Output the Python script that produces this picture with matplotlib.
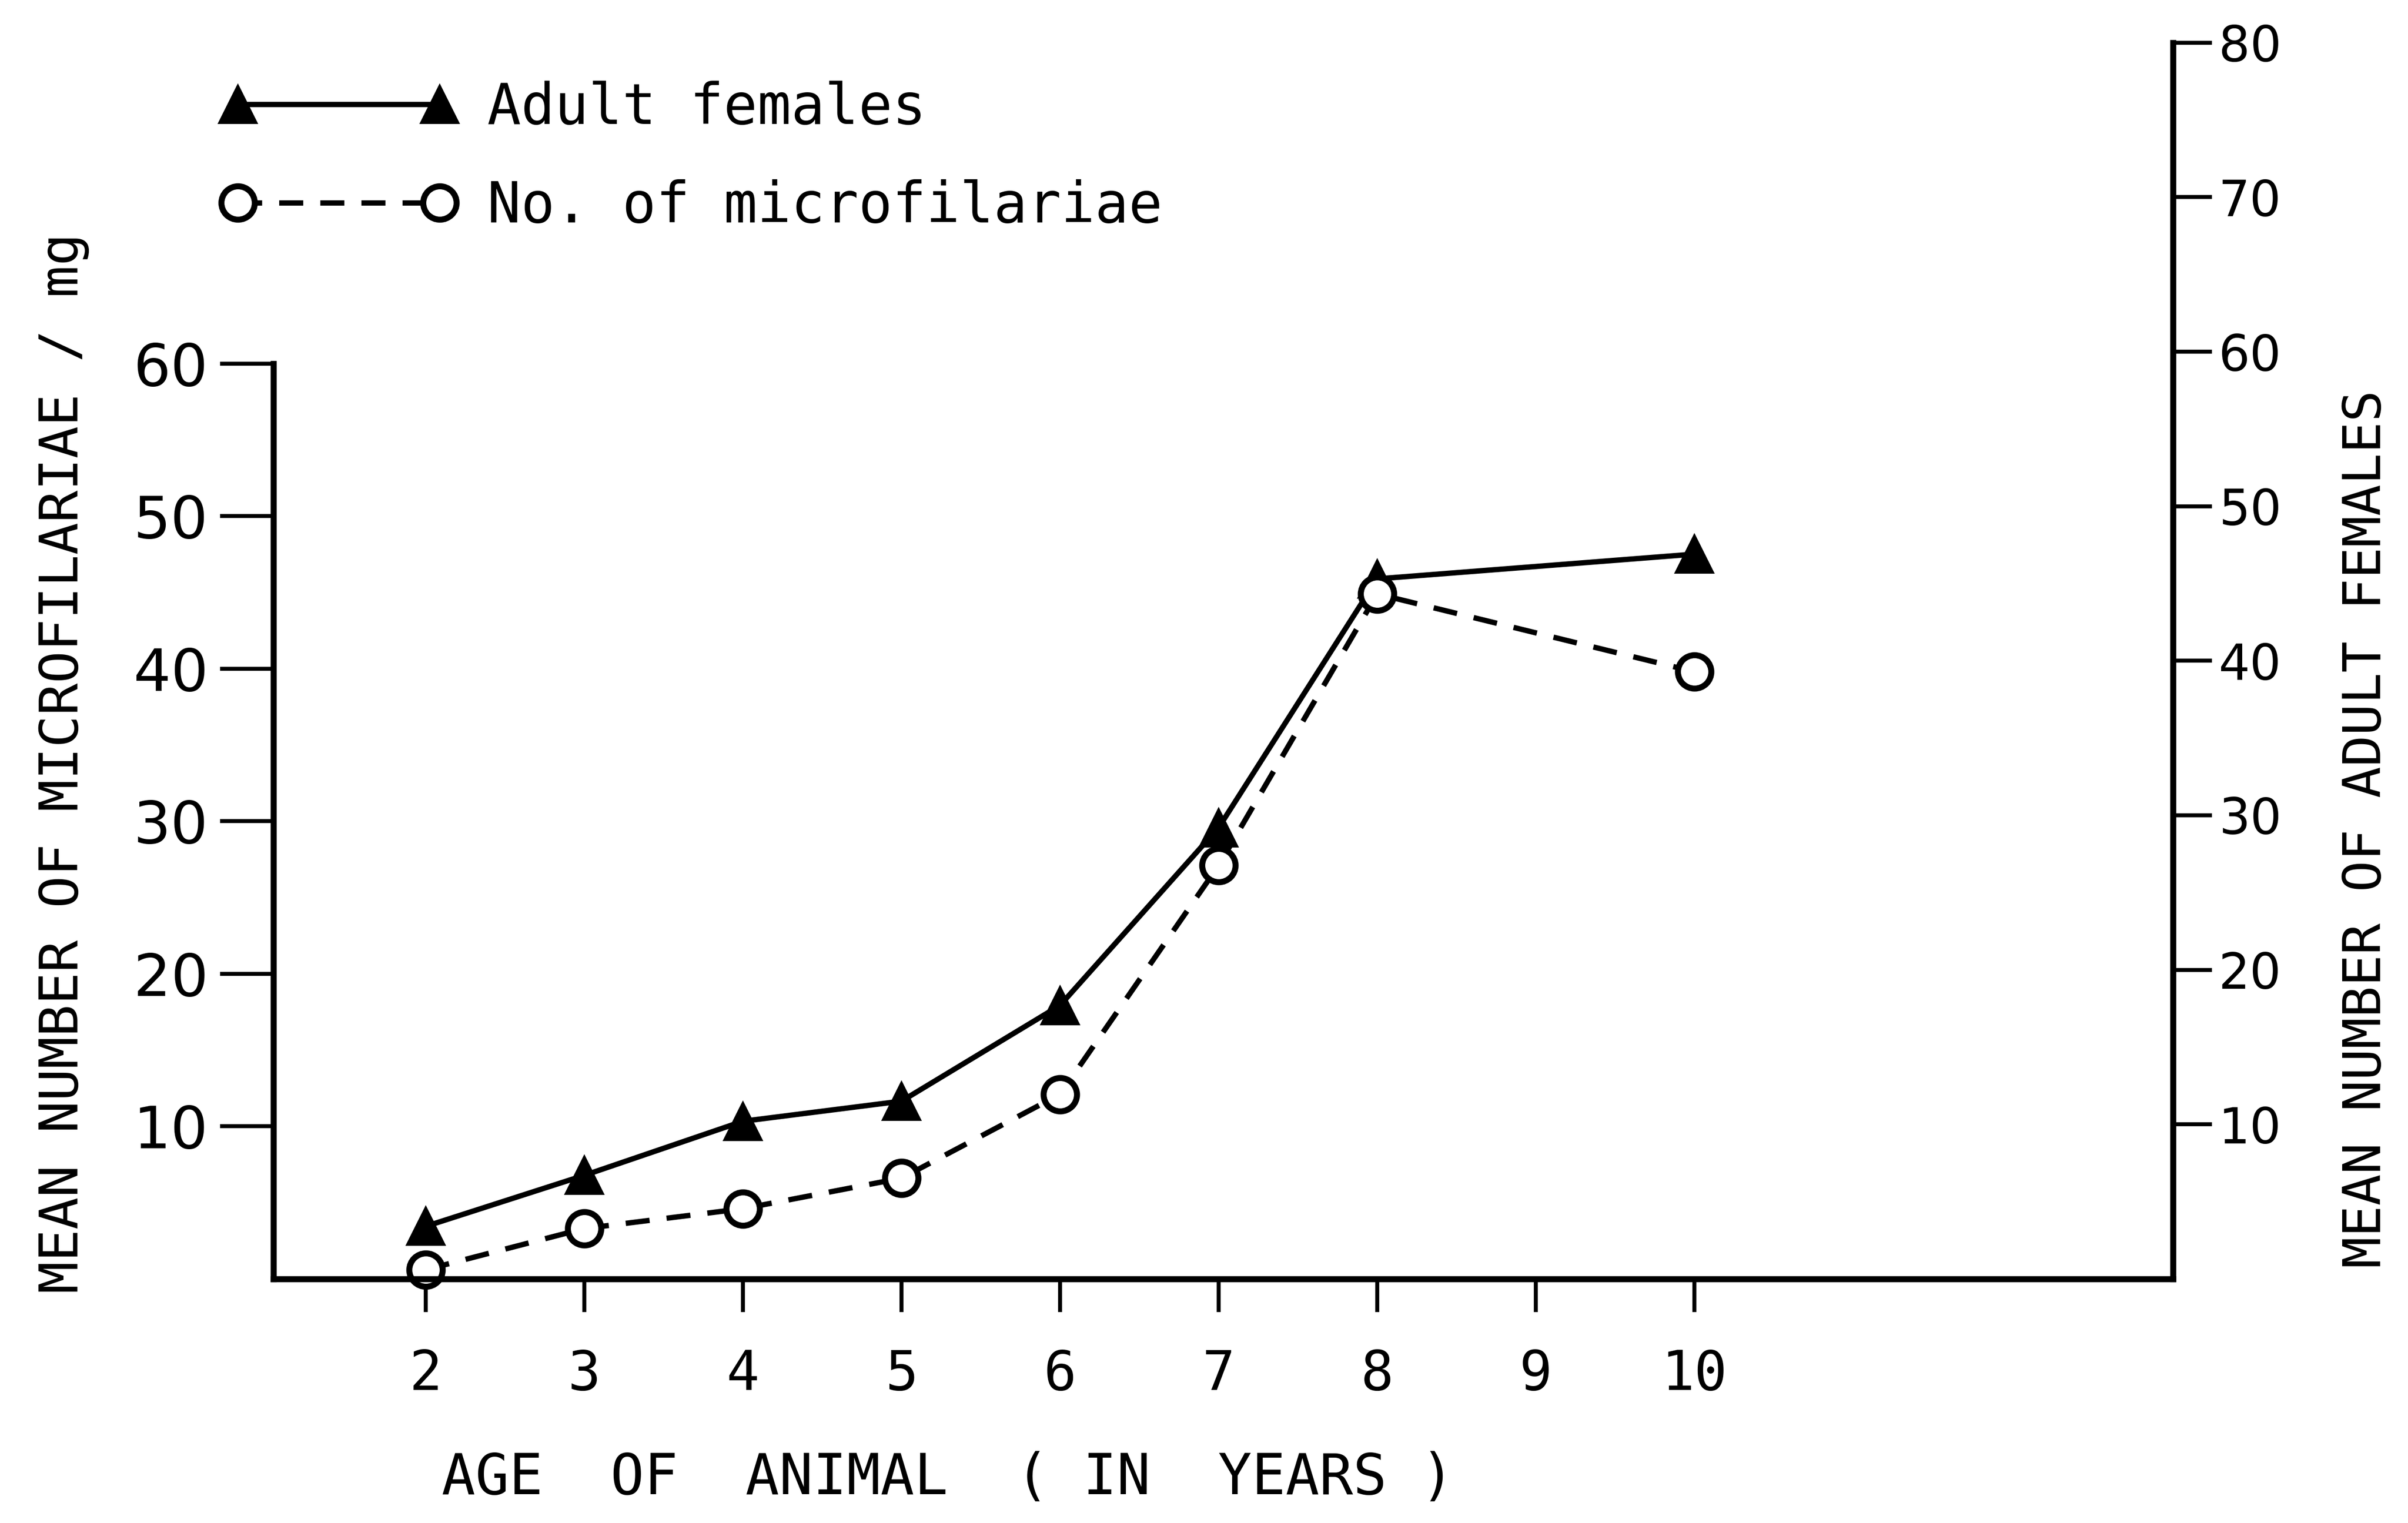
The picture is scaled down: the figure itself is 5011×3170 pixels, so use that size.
import matplotlib
matplotlib.use("Agg")
import matplotlib.pyplot as plt

ages = [2, 3, 4, 5, 6, 7, 8, 10]
adult_females = [3.4, 6.7, 10.2, 11.5, 17.7, 29.2, 45.3, 46.9]
microfilariae = [0.6, 3.3, 4.6, 6.6, 12.1, 27.1, 44.9, 39.8]

x_ticks = [2, 3, 4, 5, 6, 7, 8, 9, 10]
left_ticks = [10, 20, 30, 40, 50, 60]
right_ticks = [10, 20, 30, 40, 50, 60, 70, 80]

mono = 'DejaVu Sans Mono'
sans = 'DejaVu Sans'

fig = plt.figure(figsize=(50.11, 31.70), dpi=100)
ax = fig.add_axes([0.1136, 0.1603, 0.7889, 0.8117])
ax2 = ax.twinx()
# circles drawn above triangles
ax.set_zorder(ax2.get_zorder() + 1)
ax.patch.set_visible(False)

l1, = ax2.plot(ages, adult_females, color='black', lw=8, marker='^',
               ms=56, mfc='black', mec='black', mew=3, clip_on=False,
               label='Adult females')
l2, = ax.plot(ages, microfilariae, color='black', lw=8, ls=(0, (4.5, 3.2)),
              marker='o', ms=50, mfc='white', mec='black', mew=9,
              clip_on=False, label='No. of microfilariae')

ax.set_xlim(1.04, 13.02)
ax.set_ylim(0, 81.04)
ax2.set_ylim(0, 80)

for s in ['top', 'right']:
    ax.spines[s].set_visible(False)
for s in ['top', 'left', 'bottom']:
    ax2.spines[s].set_visible(False)
ax.spines['left'].set_bounds(0, 60)
ax2.spines['right'].set_bounds(0, 80)
ax.spines['left'].set_linewidth(9)
ax.spines['bottom'].set_linewidth(9)
ax2.spines['right'].set_linewidth(9)

ax.set_xticks(x_ticks)
ax.set_xticklabels([str(t) for t in x_ticks], fontfamily=mono, fontsize=82)
ax.set_yticks(left_ticks)
ax.set_yticklabels([str(t) for t in left_ticks], fontfamily=sans, fontsize=88)
ax2.set_yticks(right_ticks)
ax2.set_yticklabels([str(t) for t in right_ticks], fontfamily=sans, fontsize=74)

ax.tick_params(axis='x', length=50, width=6, pad=54)
ax.tick_params(axis='y', length=80, width=6, pad=18)
ax2.tick_params(axis='y', length=58, width=6, pad=10)

ax.set_xlabel('AGE  OF  ANIMAL  ( IN  YEARS )', fontfamily=mono, fontsize=84)
ax.xaxis.set_label_coords(0.355, -0.139)
ax.set_ylabel('MEAN NUMBER OF MICROFILARIAE / mg', fontfamily=mono, fontsize=80)
ax.yaxis.set_label_coords(-0.097, 0.417)
ax2.set_ylabel('MEAN NUMBER OF ADULT FEMALES', fontfamily=mono, fontsize=78,
               rotation=90)
ax2.yaxis.set_label_coords(1.088, 0.364)

leg = ax.legend(handles=[l1, l2], loc='center left', numpoints=2,
                bbox_to_anchor=(460 / 5011, 1 - 328 / 3170),
                bbox_transform=fig.transFigure, frameon=False,
                borderpad=0, borderaxespad=0, handlelength=4.2,
                handletextpad=0.55, labelspacing=0.77,
                prop={'family': mono, 'size': 84})

fig.savefig('out.png', dpi=100, facecolor='white')
